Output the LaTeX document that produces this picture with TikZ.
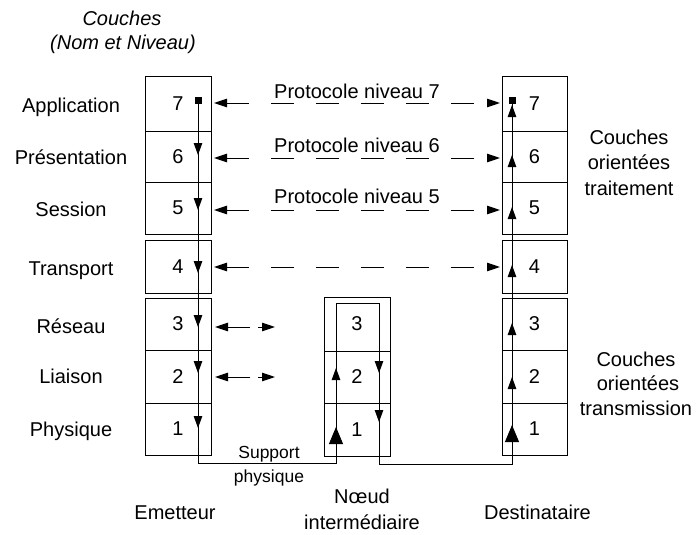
\documentclass[tikz,border=0pt]{standalone}
\usepackage{fontspec}
\setmainfont{Liberation Sans}
\usetikzlibrary{arrows.meta}
\begin{document}
\begin{tikzpicture}[x=1pt,y=-1pt,
  every node/.style={font=\fontsize{20}{24}\selectfont},
  cell/.style={draw, line width=1pt, minimum width=66pt, inner sep=0pt},
  rcell/.style={cell, minimum width=65pt},
  lbl/.style={anchor=base, inner sep=0pt},
  small/.style={font=\fontsize{17.5}{21}\selectfont},
  wire/.style={line width=0.9pt},
  sq/.style={fill=black, minimum size=7pt, inner sep=0pt},
  tipdn/.style={-{Triangle[length=12pt,width=8.5pt]}, line width=0.9pt},
  tipbig/.style={-{Triangle[length=17pt,width=14pt]}, line width=0.9pt},
  proto/.style={{Triangle[length=13pt,width=8.5pt]}-{Triangle[length=13pt,width=8.5pt]}, line width=1pt,
     dash pattern=on 22pt off 22pt on 23pt off 22pt on 23pt off 22pt on 23pt off 22pt on 23pt off 22pt on 23pt off 40pt},
  sarrow/.style={-{Triangle[length=13pt,width=8.5pt]}, line width=1pt}
]
\useasboundingbox (0,0) rectangle (696,535);

% left column (emitter)
\node[cell, minimum height=54pt] (L7) at (178,104) {7};
\node[cell, minimum height=51pt] (L6) at (178,156.5) {6};
\node[cell, minimum height=52pt] (L5) at (178,208) {5};
\node[cell, minimum height=53pt] (L4) at (178,266.5) {4};
\node[cell, minimum height=52pt] (L3) at (178,324) {3};
\node[cell, minimum height=53pt] (L2) at (178,376.5) {2};
\node[cell, minimum height=52pt] (L1) at (178,429) {1};

% right column (destination)
\node[rcell, minimum height=54pt] (R7) at (534.5,104) {7};
\node[rcell, minimum height=51pt] (R6) at (534.5,156.5) {6};
\node[rcell, minimum height=52pt] (R5) at (534.5,208) {5};
\node[rcell, minimum height=53pt] (R4) at (534.5,266.5) {4};
\node[rcell, minimum height=52pt] (R3) at (534.5,324) {3};
\node[rcell, minimum height=53pt] (R2) at (534.5,376.5) {2};
\node[rcell, minimum height=52pt] (R1) at (534.5,429) {1};

% middle column
\node[cell, minimum height=54pt] (M3) at (357,324) {3};
\node[cell, minimum height=52pt] (M2) at (357,377) {2};
\node[cell, minimum height=53pt] (M1) at (357,429.5) {1};

% layer names
\node[lbl] (nTitle1) at (122,26) {\itshape Couches};
\node[lbl] (nTitle2) at (123,49) {\itshape (Nom et Niveau)};
\node[lbl] (n7) at (71,112) {Application};
\node[lbl] (n6) at (71,164) {Présentation};
\node[lbl] (n5) at (71,216) {Session};
\node[lbl] (n4) at (71,275) {Transport};
\node[lbl] (n3) at (71,333) {Réseau};
\node[lbl] (n2) at (71,383) {Liaison};
\node[lbl] (n1) at (71,436) {Physique};

% right labels
\node[lbl] (t1) at (629,144) {Couches};
\node[lbl] (t2) at (629,169.5) {orientées};
\node[lbl] (t3) at (629,195) {traitement};
\node[lbl] (s1) at (636,366) {Couches};
\node[lbl] (s2) at (638,390.5) {orientées};
\node[lbl] (s3) at (636,415) {transmission};

% bottom labels
\node[lbl] (em) at (175,519) {Emetteur};
\node[lbl] (nd1) at (362,503) {Nœud};
\node[lbl] (nd2) at (362,529) {intermédiaire};
\node[lbl] (de) at (537.5,519) {Destinataire};
\node[lbl, small] (sp1) at (269,458) {Support};
\node[lbl, small] (sp2) at (269,482) {physique};

% protocol labels
\node[lbl] (p7) at (357,99) {Protocole niveau 7};
\node[lbl] (p6) at (357,152) {Protocole niveau 6};
\node[lbl] (p5) at (357,203) {Protocole niveau 5};

% data path
\coordinate (eTop) at (198,100);
\coordinate (eBot) at (198,463);
\coordinate (mLB) at (336,463);
\coordinate (mLT) at (336,303);
\coordinate (mRT) at (379,303);
\coordinate (mRB) at (379,464);
\coordinate (dBot) at (512,464);
\coordinate (dTop) at (512,100);
\draw[wire] (eTop) -- (eBot) -- (mLB) -- (mLT) -- (mRT) -- (mRB) -- (dBot) -- (dTop);
\node[sq] (sqE) at (eTop) {};
\node[sq] (sqD) at (dTop) {};

% emitter down arrows
\foreach \t in {155,210,273,327,373,428}
  \draw[tipdn] (198,\t-12) -- (198,\t);
% destination up arrows
\foreach \t in {105,155,207,265,323,377}
  \draw[tipdn] (512,\t+12) -- (512,\t);
\draw[tipbig] (512,444) -- (512,425);
% intermediate node arrows
\draw[tipdn] (336,382) -- (336,368);
\draw[tipbig] (336,444) -- (336,427);
\draw[tipdn] (379,361) -- (379,373);
\draw[tipdn] (379,410) -- (379,422);

% protocol arrows (levels 7..4)
\foreach \y/\k in {103/7,158/6,210/5,267/4}{
  \coordinate (pl\k) at (214,\y);
  \coordinate (pr\k) at (500,\y);
  \draw[proto] (pl\k) -- (pr\k);
}
% levels 3 and 2 short arrows
\foreach \y/\k in {327/3,377/2}{
  \coordinate (al\k) at (250,\y);
  \coordinate (alt\k) at (215,\y);
  \coordinate (ar\k) at (258,\y);
  \coordinate (art\k) at (275,\y);
  \draw[sarrow] (al\k) -- (alt\k);
  \draw[sarrow] (ar\k) -- (art\k);
}
\end{tikzpicture}
\end{document}
